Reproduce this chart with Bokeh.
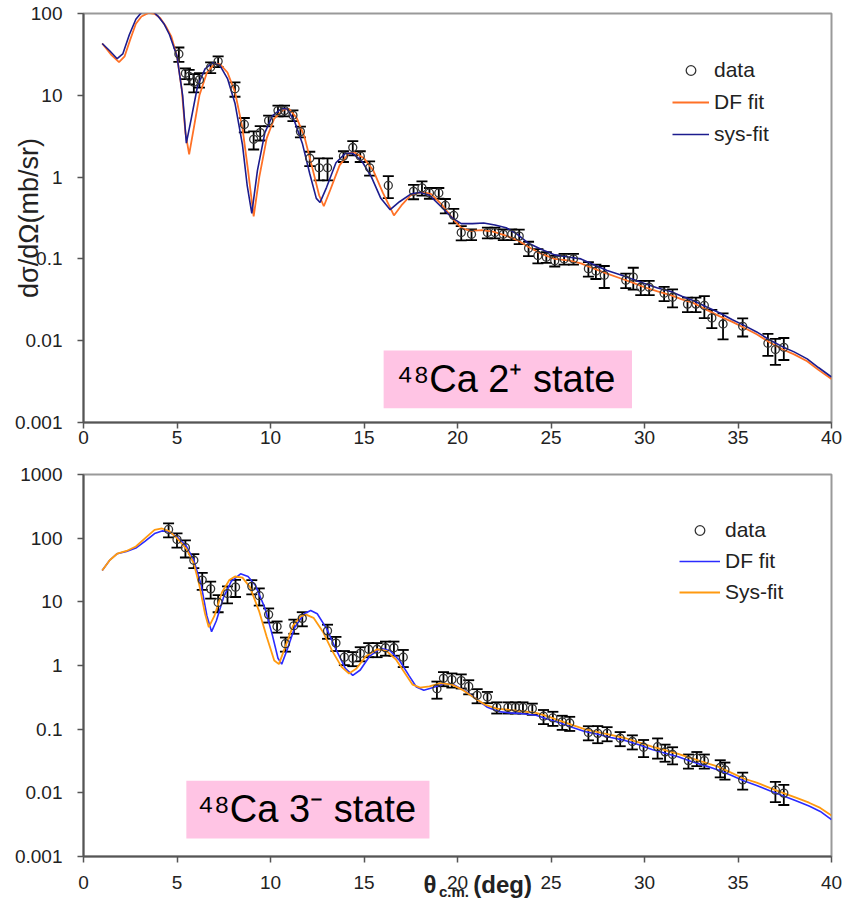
import math
from bokeh.plotting import figure
from bokeh.layouts import column
from bokeh.models import (ColumnDataSource, Whisker, TeeHead, FixedTicker, CustomJSTickFormatter,
                          Legend, LegendItem, Label, BoxAnnotation, Range1d, LinearAxis)
from bokeh.embed import file_html
from bokeh.resources import INLINE

FONT = "Liberation Sans"

# ---------------- Top panel: 48Ca 2+ ----------------
top_data_x = [5.1, 5.45, 5.65, 5.9, 6.2, 6.8, 7.2, 8.1, 8.6, 9.1, 9.45, 9.9, 10.4, 10.75, 11.2, 11.6,
              12.1, 12.6, 13.05, 13.9, 14.4, 14.8, 15.3, 16.3, 17.65, 18.1, 18.5, 19.0, 19.35, 19.8,
              20.2, 20.75, 21.6, 22.0, 22.45, 22.9, 23.3, 23.8, 24.3, 24.75, 25.2, 25.7, 26.2,
              27.0, 27.4, 27.85, 29.0, 29.4, 29.8, 30.25, 31.05, 31.5, 32.3, 32.75, 33.2, 33.6,
              34.2, 35.25, 36.6, 37.0, 37.45]
top_data_y = [32, 18.6, 17, 14.5, 15.5, 22, 26, 12, 4.4, 2.9, 3.5, 4.9, 6.5, 6.5, 5.7, 3.6,
              1.7, 1.3, 1.3, 1.8, 2.3, 1.8, 1.3, 0.79, 0.67, 0.74, 0.64, 0.64, 0.45, 0.34,
              0.21, 0.2, 0.21, 0.21, 0.2, 0.2, 0.19, 0.135, 0.11, 0.105, 0.095, 0.1, 0.1,
              0.076, 0.071, 0.063, 0.055, 0.06, 0.045, 0.045, 0.038, 0.034, 0.028, 0.028, 0.027, 0.019,
              0.016, 0.015, 0.0093, 0.0078, 0.0083]
top_data_err = [0.2, 0.15, 0.2, 0.25, 0.2, 0.15, 0.15, 0.2, 0.2, 0.25, 0.2, 0.15, 0.15, 0.15, 0.15, 0.15,
                0.2, 0.3, 0.3, 0.15, 0.2, 0.15, 0.2, 0.3, 0.2, 0.2, 0.15, 0.15, 0.2, 0.2,
                0.2, 0.15, 0.15, 0.15, 0.15, 0.15, 0.2, 0.2, 0.2, 0.15, 0.15, 0.15, 0.15,
                0.2, 0.2, 0.3, 0.2, 0.3, 0.2, 0.2, 0.2, 0.25, 0.2, 0.2, 0.3, 0.25,
                0.35, 0.25, 0.3, 0.35, 0.3]

top_df_x = [1.0, 1.5, 1.9, 2.2, 2.5, 2.8, 3.1, 3.5, 3.8, 4.1, 4.4, 4.7, 5.0, 5.25, 5.45, 5.65, 5.9, 6.2,
            6.6, 7.0, 7.3, 7.7, 8.1, 8.5, 8.8, 9.1, 9.4, 9.8, 10.2, 10.7, 11.0, 11.4, 11.8, 12.2, 12.6,
            12.85, 13.2, 13.7, 14.2, 14.5, 15.0, 15.5, 16.0, 16.6, 17.0, 17.5, 18.1, 18.6, 19.2, 19.8,
            20.2, 20.7, 21.3, 21.9, 22.5, 23.2, 23.8, 24.5, 25.2, 26.0, 26.6, 27.3, 28.0, 28.7, 29.3,
            30.0, 30.7, 31.4, 32.0, 32.6, 33.3, 34.0, 34.7, 35.3, 36.0, 36.7, 37.4, 38.0, 38.7, 39.3, 40.0]
top_df_y = [43, 31, 25.5, 30, 48, 75, 92, 102, 99, 88, 70, 52, 30, 12, 3.5, 1.9, 4, 10,
            19, 24, 24, 19, 11, 4, 1.2, 0.33, 1.0, 3.0, 5.2, 6.7, 6.8, 5.3, 3.2, 1.4, 0.6,
            0.44, 0.7, 1.4, 1.95, 2.0, 1.7, 1.2, 0.65, 0.34, 0.45, 0.6, 0.66, 0.62, 0.45, 0.3,
            0.24, 0.22, 0.225, 0.215, 0.195, 0.17, 0.14, 0.115, 0.1, 0.095, 0.088, 0.076, 0.066, 0.058, 0.052,
            0.045, 0.04, 0.036, 0.032, 0.029, 0.024, 0.02, 0.017, 0.0145, 0.012, 0.0095, 0.0078, 0.0068, 0.0056, 0.0044, 0.0034]

top_sys_x = [1.0, 1.4, 1.8, 2.1, 2.45, 2.8, 3.1, 3.4, 3.7, 4.0, 4.3, 4.6, 5.0, 5.3, 5.5, 5.75, 6.1, 6.5,
             6.9, 7.3, 7.7, 8.1, 8.5, 8.75, 9.0, 9.3, 9.7, 10.1, 10.6, 10.9, 11.3, 11.7, 12.1, 12.45, 12.65,
             13.0, 13.5, 14.0, 14.4, 14.9, 15.4, 15.9, 16.4, 16.9, 17.5, 18.0, 18.5, 19.1, 19.7, 20.2,
             20.8, 21.4, 22.0, 22.6, 23.2, 23.8, 24.5, 25.2, 26.0, 26.6, 27.3, 28.0, 28.7, 29.3, 30.0,
             30.7, 31.4, 32.0, 32.6, 33.3, 34.0, 34.7, 35.3, 36.0, 36.7, 37.4, 38.0, 38.7, 39.3, 40.0]
top_sys_y = [43, 35, 28, 32, 55, 85, 103, 110, 106, 92, 75, 55, 30, 10, 2.6, 5, 13, 21,
             25, 23, 16, 8, 2.5, 0.8, 0.36, 1.2, 3.5, 5.6, 6.9, 6.8, 4.7, 2.6, 1.1, 0.55, 0.49,
             0.75, 1.5, 1.95, 1.95, 1.55, 1.0, 0.55, 0.40, 0.5, 0.62, 0.65, 0.6, 0.44, 0.32, 0.27,
             0.27, 0.275, 0.26, 0.24, 0.2, 0.155, 0.13, 0.112, 0.105, 0.1, 0.085, 0.072, 0.064, 0.057, 0.05,
             0.044, 0.04, 0.035, 0.031, 0.026, 0.022, 0.018, 0.0155, 0.0128, 0.0102, 0.0084, 0.0073, 0.006, 0.0047, 0.0036]

# ---------------- Bottom panel: 48Ca 3- ----------------
bot_data_x = [4.55, 5.0, 5.45, 5.9, 6.35, 6.8, 7.2, 7.7, 8.13, 9.0, 9.4, 9.9, 10.35, 10.8, 11.25, 11.7,
              13.05, 13.5, 13.95, 14.4, 14.8, 15.25, 15.7, 16.15, 16.6, 17.1, 18.9, 19.25, 19.7, 20.2,
              20.6, 21.05, 21.6, 22.1, 22.7, 23.1, 23.5, 24.0, 24.6, 25.1, 25.6, 26.0, 27.0, 27.5, 28.0,
              28.7, 29.35, 29.95, 30.7, 31.1, 31.5, 32.35, 32.8, 33.2, 34.05, 34.3, 35.25, 37.0, 37.45]
bot_data_y = [137, 95, 71, 45, 22, 16, 9.8, 13.5, 17, 17.5, 12.5, 6.3, 4.1, 2.2, 4.2, 5.5,
              3.5, 2.25, 1.35, 1.3, 1.55, 1.8, 1.8, 1.9, 1.9, 1.35, 0.43, 0.63, 0.6, 0.58,
              0.47, 0.34, 0.32, 0.22, 0.22, 0.22, 0.22, 0.21, 0.16, 0.15, 0.13, 0.125, 0.089, 0.086, 0.086,
              0.072, 0.064, 0.052, 0.053, 0.044, 0.04, 0.032, 0.035, 0.032, 0.025, 0.023, 0.016, 0.011, 0.0099]
bot_data_err = [0.25, 0.25, 0.3, 0.25, 0.3, 0.3, 0.3, 0.3, 0.3, 0.25, 0.3, 0.25, 0.2, 0.25, 0.25, 0.25,
                0.25, 0.25, 0.25, 0.25, 0.25, 0.25, 0.25, 0.25, 0.25, 0.3, 0.3, 0.25, 0.25, 0.25,
                0.25, 0.25, 0.2, 0.2, 0.2, 0.2, 0.2, 0.2, 0.25, 0.25, 0.25, 0.25, 0.25, 0.3, 0.25,
                0.25, 0.25, 0.3, 0.35, 0.3, 0.3, 0.25, 0.25, 0.25, 0.3, 0.3, 0.3, 0.35, 0.35]

bot_df_x = [1.0, 1.4, 1.8, 2.3, 2.8, 3.3, 3.8, 4.2, 4.6, 5.0, 5.5, 5.9, 6.3, 6.6, 6.85, 7.1, 7.5, 7.9,
            8.4, 8.8, 9.2, 9.7, 10.1, 10.4, 10.6, 10.9, 11.3, 11.8, 12.15, 12.5, 13.0, 13.5, 14.0, 14.4,
            14.8, 15.3, 15.9, 16.4, 16.9, 17.4, 17.8, 18.2, 18.7, 19.3, 19.8, 20.4, 21.0, 21.6, 22.2,
            22.8, 23.5, 24.2, 24.8, 25.5, 26.2, 26.8, 27.5, 28.2, 29.0, 29.7, 30.4, 31.1, 31.8, 32.5,
            33.2, 33.9, 34.6, 35.3, 36.0, 36.7, 37.4, 38.1, 38.8, 39.4, 40.0]
bot_df_y = [31, 45, 57, 62, 70, 90, 118, 130, 125, 105, 75, 45, 18, 6, 3.4, 5, 12, 21,
            27.5, 25, 18, 8, 3, 1.3, 1.05, 1.8, 4.0, 6.5, 7.3, 6.5, 3.8, 1.8, 0.9, 0.7,
            0.85, 1.4, 1.86, 1.7, 1.2, 0.7, 0.46, 0.41, 0.45, 0.52, 0.5, 0.4, 0.3, 0.22, 0.19,
            0.18, 0.175, 0.165, 0.145, 0.125, 0.105, 0.092, 0.083, 0.074, 0.066, 0.057, 0.048, 0.042, 0.037, 0.031,
            0.027, 0.023, 0.019, 0.0155, 0.013, 0.0108, 0.009, 0.0075, 0.0062, 0.0051, 0.0038]

bot_sys_x = [1.0, 1.4, 1.8, 2.3, 2.8, 3.3, 3.8, 4.2, 4.6, 5.0, 5.5, 5.9, 6.2, 6.5, 6.7, 7.0, 7.4, 7.8,
             8.1, 8.5, 8.9, 9.4, 9.8, 10.2, 10.45, 10.8, 11.2, 11.6, 11.9, 12.3, 12.8, 13.3, 13.8, 14.2,
             14.6, 15.1, 15.7, 16.2, 16.7, 17.2, 17.6, 18.0, 18.5, 19.1, 19.7, 20.3, 20.9, 21.5, 22.1,
             22.8, 23.5, 24.2, 24.8, 25.5, 26.2, 26.8, 27.5, 28.2, 29.0, 29.7, 30.4, 31.1, 31.8, 32.5,
             33.2, 33.9, 34.6, 35.3, 36.0, 36.7, 37.4, 38.1, 38.8, 39.4, 40.0]
bot_sys_y = [31, 45, 57, 63, 74, 100, 135, 142, 128, 100, 68, 40, 18, 6.5, 4.0, 6, 14, 22,
             25, 24, 17, 7, 2.8, 1.2, 1.05, 2.0, 4.2, 5.9, 6.3, 5.6, 3.4, 1.7, 0.95, 0.75,
             0.9, 1.4, 1.8, 1.7, 1.25, 0.75, 0.5, 0.45, 0.47, 0.53, 0.5, 0.41, 0.31, 0.24, 0.21,
             0.2, 0.19, 0.18, 0.16, 0.135, 0.115, 0.1, 0.09, 0.081, 0.072, 0.062, 0.053, 0.047, 0.041, 0.035,
             0.03, 0.026, 0.021, 0.0168, 0.0145, 0.012, 0.01, 0.0084, 0.007, 0.0058, 0.0044]

x_ticks = [0, 5, 10, 15, 20, 25, 30, 35, 40]
top_y_ticks = [0.001, 0.01, 0.1, 1, 10, 100]
bot_y_ticks = [0.001, 0.01, 0.1, 1, 10, 100, 1000]

# x-axis title pieces of the lower panel: "θ" + subscript "c.m." + "(deg)"
xlabel_main_at = [18.53, 22.41]
xlabel_main_txt = ["θ", "(deg)"]
xlabel_sub_at = [19.81]
xlabel_sub_txt = ["c.m."]


def style(p, yticks, xstandoff):
    p.xaxis.ticker = FixedTicker(ticks=x_ticks)
    p.yaxis.ticker = FixedTicker(ticks=yticks)
    p.yaxis.formatter = CustomJSTickFormatter(code="return Number(tick.toPrecision(6)).toString();")
    for ax in (p.xaxis[0], p.yaxis[0]):
        ax.axis_line_color = "#555555"
        ax.axis_line_width = 2
        ax.major_tick_line_color = "#555555"
        ax.major_tick_line_width = 1.5
        ax.major_tick_out = 6
        ax.major_tick_in = 0
        ax.minor_tick_line_color = None
        ax.major_label_text_font = FONT
        ax.major_label_text_font_size = "19px"
        ax.major_label_text_color = "#222222"
    p.xaxis.major_label_standoff = xstandoff
    p.yaxis.major_label_standoff = 15
    p.xgrid.visible = False
    p.ygrid.visible = False
    p.outline_line_color = "#999999"
    p.outline_line_width = 2
    p.background_fill_color = "white"
    p.border_fill_color = "white"


def add_data(p, xs, ys, errs):
    src = ColumnDataSource(dict(x=xs, y=ys,
                                lower=[y * (1 - e) for y, e in zip(ys, errs)],
                                upper=[y * (1 + e) for y, e in zip(ys, errs)]))
    w = Whisker(source=src, base="x", upper="upper", lower="lower", dimension="height",
                line_color="black", line_width=1.8,
                upper_head=TeeHead(size=11, line_color="black", line_width=1.8),
                lower_head=TeeHead(size=11, line_color="black", line_width=1.8))
    p.add_layout(w)
    r = p.scatter("x", "y", source=src, marker="circle", size=8, fill_color=None,
                  line_color="#333333", line_width=1.3)
    return r


def label_axis(ticks, texts, size, standoff):
    mapping = dict(zip([str(t) for t in ticks], texts))
    ax = LinearAxis(ticker=FixedTicker(ticks=ticks),
                    formatter=CustomJSTickFormatter(args=dict(m=mapping),
                                                    code="var k = String(tick); return (k in m) ? m[k] : '';"))
    ax.axis_line_color = None
    ax.major_tick_line_color = None
    ax.minor_tick_line_color = None
    ax.major_tick_out = 0
    ax.major_tick_in = 0
    ax.major_label_standoff = standoff
    ax.major_label_text_font = FONT
    ax.major_label_text_font_size = size
    ax.major_label_text_font_style = "bold"
    ax.major_label_text_color = "#222222"
    return ax


# ---- top figure ----
p1 = figure(width=846, height=455, y_axis_type="log", output_backend="svg", toolbar_location=None,
            x_range=Range1d(0, 40), y_range=Range1d(0.001, 100),
            min_border_left=81, min_border_right=15, min_border_top=13, min_border_bottom=33)
style(p1, top_y_ticks, 2)
p1.yaxis.axis_label = "dσ/dΩ(mb/sr)"
p1.yaxis.axis_label_text_font = FONT
p1.yaxis.axis_label_text_font_size = "27px"
p1.yaxis.axis_label_text_font_style = "normal"
p1.yaxis.axis_label_text_color = "#222222"
p1.yaxis.axis_label_standoff = -32

t_df = p1.line(top_df_x, top_df_y, line_color="#FF7126", line_width=1.8)
t_sys = p1.line(top_sys_x, top_sys_y, line_color="#1C1C8E", line_width=1.6)
t_dat = add_data(p1, top_data_x, top_data_y, top_data_err)

leg1 = Legend(items=[LegendItem(label="data", renderers=[t_dat]),
                     LegendItem(label="DF fit", renderers=[t_df]),
                     LegendItem(label="sys-fit", renderers=[t_sys])],
              location=(589, 276), orientation="vertical")
p1.add_layout(leg1)

p1.add_layout(BoxAnnotation(left=16.05, right=29.33, bottom=0.00149, top=0.0076,
                            fill_color="#FFC4E4", fill_alpha=1.0, line_color=None))
p1.add_layout(Label(x=22.6, y=0.00336, text="⁴⁸Ca 2⁺ state", text_font=FONT,
                    text_font_size="38px", text_align="center", text_baseline="middle",
                    text_color="black"))

# ---- bottom figure ----
p2 = figure(width=846, height=454, y_axis_type="log", output_backend="svg", toolbar_location=None,
            x_range=Range1d(0, 40), y_range=Range1d(0.001, 1000),
            min_border_left=83, min_border_right=15, min_border_top=19, min_border_bottom=53)
style(p2, bot_y_ticks, 13)

b_df = p2.line(bot_df_x, bot_df_y, line_color="#2B2BFF", line_width=1.6)
b_sys = p2.line(bot_sys_x, bot_sys_y, line_color="#FF9A10", line_width=1.8)
b_dat = add_data(p2, bot_data_x, bot_data_y, bot_data_err)

leg2 = Legend(items=[LegendItem(label="data", renderers=[b_dat]),
                     LegendItem(label="DF fit", renderers=[b_df]),
                     LegendItem(label="Sys-fit", renderers=[b_sys])],
              location=(596, 252), orientation="vertical")
p2.add_layout(leg2)

for lg, gw, sp in ((leg1, 37, 8), (leg2, 41, 7)):
    lg.label_text_font = FONT
    lg.label_text_font_size = "21px"
    lg.label_text_color = "#222222"
    lg.glyph_width = gw
    lg.glyph_height = 24
    lg.label_height = 24
    lg.label_standoff = 5
    lg.spacing = sp
    lg.padding = 0
    lg.margin = 0
    lg.border_line_color = None
    lg.background_fill_alpha = 0

p2.add_layout(BoxAnnotation(left=5.5, right=18.5, bottom=0.00191, top=0.0155,
                            fill_color="#FFC4E4", fill_alpha=1.0, line_color=None))
p2.add_layout(Label(x=11.94, y=0.0055, text="⁴⁸Ca 3⁻ state", text_font=FONT,
                    text_font_size="38px", text_align="center", text_baseline="middle",
                    text_color="black"))

p2.add_layout(label_axis(xlabel_main_at, xlabel_main_txt, "24px", -21), "below")
p2.add_layout(label_axis(xlabel_sub_at, xlabel_sub_txt, "15px", -18), "below")

layout = column(p1, p2)
open("out.html", "w").write(file_html(layout, INLINE))
